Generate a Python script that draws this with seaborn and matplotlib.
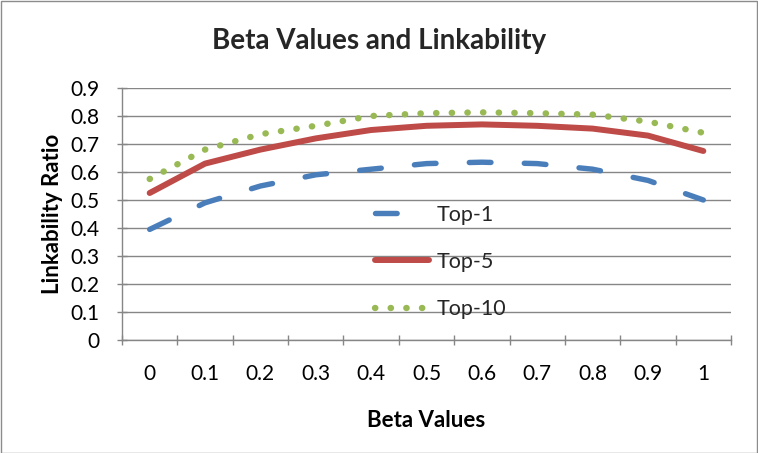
import matplotlib
matplotlib.use("Agg")
import matplotlib.pyplot as plt
import matplotlib.patches as mpatches
import seaborn as sns

beta = [0.0, 0.1, 0.2, 0.3, 0.4, 0.5, 0.6, 0.7, 0.8, 0.9, 1.0]
x_labels = ["0", "0.1", "0.2", "0.3", "0.4", "0.5", "0.6", "0.7", "0.8", "0.9", "1"]
top1 = [0.395, 0.49, 0.55, 0.59, 0.61, 0.63, 0.635, 0.63, 0.61, 0.57, 0.50]
top5 = [0.525, 0.63, 0.68, 0.72, 0.75, 0.765, 0.77, 0.765, 0.755, 0.73, 0.675]
top10 = [0.575, 0.68, 0.735, 0.765, 0.80, 0.81, 0.813, 0.81, 0.805, 0.78, 0.74]
y_ticks = [0, 0.1, 0.2, 0.3, 0.4, 0.5, 0.6, 0.7, 0.8, 0.9]
y_labels = ["0", "0.1", "0.2", "0.3", "0.4", "0.5", "0.6", "0.7", "0.8", "0.9"]

GRID = "#868686"
DASH1 = (4.0, 6.15)
DOTS = (0.05, 2.4)

sns.set_theme(style="white")
plt.rcParams["font.family"] = ["Lato", "DejaVu Sans"]

fig = plt.figure(figsize=(7.58, 4.53), dpi=100)
ax = fig.add_axes([122 / 758, 1 - 340 / 453, 609 / 758, 252 / 453])

sns.lineplot(x=beta, y=top1, color="#4a7ebb", linewidth=3.9, label="Top-1", ax=ax)
sns.lineplot(x=beta, y=top5, color="#be4b48", linewidth=4.3, label="Top-5", ax=ax)
sns.lineplot(x=beta, y=top10, color="#98b954", linewidth=4.6, label="Top-10", ax=ax)

l1, l5, l10 = ax.lines[-3:]
l1.set_dashes(DASH1)
l1.set_dash_capstyle("round")
l5.set_solid_capstyle("round")
l10.set_dashes(DOTS)
l10.set_dash_capstyle("round")

ax.set_xlim(-0.05, 1.05)
ax.set_ylim(0, 0.9)
ax.set_xticks(beta)
ax.set_xticklabels(x_labels)
ax.set_xticks([b - 0.05 for b in beta] + [1.05], minor=True)
ax.set_yticks(y_ticks)
ax.set_yticklabels(y_labels)

ax.tick_params(axis="x", which="major", length=0, pad=17, labelsize=15, colors="black")
ax.tick_params(axis="x", which="minor", length=7, width=1, color=GRID, direction="inout", bottom=True)
ax.tick_params(axis="y", which="major", length=7, width=1, color=GRID, direction="inout", left=True,
               pad=13, labelsize=15, labelcolor="black")

ax.yaxis.grid(True, color=GRID, linewidth=1)
ax.set_axisbelow(True)
for side in ["top", "right"]:
    ax.spines[side].set_visible(False)
for side in ["left", "bottom"]:
    ax.spines[side].set_color(GRID)
    ax.spines[side].set_linewidth(1)

ax.set_xlabel("Beta Values", fontsize=16, fontweight="bold", labelpad=19, color="black")
ax.set_ylabel("Linkability Ratio", fontsize=16, fontweight="bold", labelpad=5, color="black")
fig.text(0.5, 1 - 41 / 453, "Beta Values and Linkability", ha="center", va="center",
         fontsize=20, fontweight="bold")

leg = ax.legend(loc="center left", bbox_to_anchor=((375.5 - 122) / 609, (340 - 262) / 252),
                frameon=False, fontsize=15.5, handlelength=2.5, handletextpad=0.36,
                labelspacing=1.27, borderpad=0, borderaxespad=0)
h1, h5, h10 = leg.legend_handles
h1.set_dashes(DASH1)
h1.set_dash_capstyle("round")
h5.set_solid_capstyle("round")
h10.set_dashes(DOTS)
h10.set_dash_capstyle("round")

fig.patches.append(mpatches.Rectangle((0.5 / 758, 0.5 / 453), 1 - 1.5 / 758, 1 - 1.5 / 453,
                                      transform=fig.transFigure, fill=False,
                                      edgecolor="#8c8c8c", linewidth=1))

fig.savefig("out.png", dpi=100)
